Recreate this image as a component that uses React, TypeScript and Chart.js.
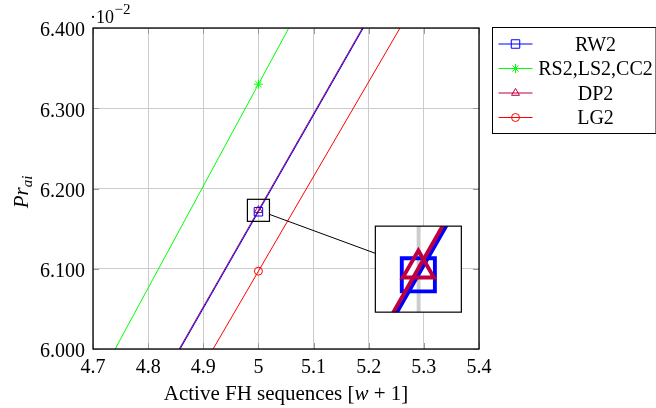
import React, { useEffect, useRef } from 'react';
import { Chart, registerables } from 'chart.js';

Chart.register(...registerables);

// ---- data (y values in units of 10^-2) ----
const xValues = [4, 5, 6];
const rw2 = [4.967, 6.171, 7.375];
const rs2 = [5.06, 6.33, 7.6];
const dp2 = [4.969, 6.173, 7.377];
const lg2 = [4.917, 6.097, 7.277];
const seriesNames = ['RW2', 'RS2,LS2,CC2', 'DP2', 'LG2'];
const seriesColors = ['#0000ff', '#00ff00', '#bf0040', '#ff0000'];
const seriesMarkers = ['rect', 'star', 'triangle', 'circle'];
const xTicks = [4.7, 4.8, 4.9, 5.0, 5.1, 5.2, 5.3, 5.4];
const xTickLabels = ['4.7', '4.8', '4.9', '5', '5.1', '5.2', '5.3', '5.4'];
const yTicks = [6.0, 6.1, 6.2, 6.3, 6.4];
const yTickLabels = ['6.000', '6.100', '6.200', '6.300', '6.400'];

// spy (zoom) settings, in data coordinates
const spyOn = { x: 5.0, y: 6.1728 };
const spyAt = { x: 5.29, y: 6.0995 };
const spySize = 86;
const spyMag = 3.9;

const FONT = '"Liberation Serif", "Times New Roman", serif';
const markerRadius: Record<string, number> = { rect: 6, star: 4.5, triangle: 4.6, circle: 4 };

function drawMarker(ctx: CanvasRenderingContext2D, style: string, x: number, y: number, color: string) {
  const r = markerRadius[style];
  ctx.save();
  ctx.strokeStyle = color;
  ctx.lineWidth = 1;
  ctx.beginPath();
  if (style === 'rect') {
    const s = r * Math.SQRT1_2;
    ctx.rect(x - s, y - s, 2 * s, 2 * s);
  } else if (style === 'circle') {
    ctx.arc(x, y, r, 0, Math.PI * 2);
  } else if (style === 'triangle') {
    for (let k = 0; k < 3; k++) {
      const a = (k * 2 * Math.PI) / 3;
      const px = x + Math.sin(a) * r;
      const py = y - Math.cos(a) * r;
      if (k === 0) ctx.moveTo(px, py);
      else ctx.lineTo(px, py);
    }
    ctx.closePath();
  } else {
    for (let k = 0; k < 4; k++) {
      const a = (k * Math.PI) / 4;
      ctx.moveTo(x - Math.cos(a) * r, y - Math.sin(a) * r);
      ctx.lineTo(x + Math.cos(a) * r, y + Math.sin(a) * r);
    }
  }
  ctx.stroke();
  ctx.restore();
}

const decorPlugin = {
  id: 'decor',
  afterDatasetsDraw(chart: any) {
    const ctx: CanvasRenderingContext2D = chart.ctx;
    const a = chart.chartArea;
    const xs = chart.scales.x;
    const ys = chart.scales.y;

    // tick marks (inside, all four sides)
    ctx.save();
    ctx.strokeStyle = '#9a9a9a';
    ctx.lineWidth = 1;
    const tl = 6;
    xTicks.forEach((v) => {
      const px = Math.round(xs.getPixelForValue(v)) + 0.5;
      ctx.beginPath();
      ctx.moveTo(px, a.bottom); ctx.lineTo(px, a.bottom - tl);
      ctx.moveTo(px, a.top); ctx.lineTo(px, a.top + tl);
      ctx.stroke();
    });
    yTicks.forEach((v) => {
      const py = Math.round(ys.getPixelForValue(v)) + 0.5;
      ctx.beginPath();
      ctx.moveTo(a.left, py); ctx.lineTo(a.left + tl, py);
      ctx.moveTo(a.right, py); ctx.lineTo(a.right - tl, py);
      ctx.stroke();
    });
    ctx.restore();

    // frame
    ctx.save();
    ctx.strokeStyle = '#000';
    ctx.lineWidth = 1.3;
    ctx.strokeRect(a.left, a.top, a.right - a.left, a.bottom - a.top);
    ctx.restore();

    // spy
    const scx = xs.getPixelForValue(spyOn.x);
    const scy = ys.getPixelForValue(spyOn.y);
    const dcx = xs.getPixelForValue(spyAt.x);
    const dcy = ys.getPixelForValue(spyAt.y);
    const big = spySize / 2;
    const small = spySize / spyMag / 2;

    ctx.save();
    ctx.beginPath();
    ctx.rect(dcx - big, dcy - big, 2 * big, 2 * big);
    ctx.fillStyle = '#fff';
    ctx.fill();
    ctx.clip();
    ctx.translate(dcx, dcy);
    ctx.scale(spyMag, spyMag);
    ctx.translate(-scx, -scy);
    ctx.strokeStyle = '#cccccc';
    ctx.lineWidth = 1;
    xTicks.forEach((v) => {
      const px = Math.round(xs.getPixelForValue(v)) + 0.5;
      ctx.beginPath(); ctx.moveTo(px, a.top); ctx.lineTo(px, a.bottom); ctx.stroke();
    });
    yTicks.forEach((v) => {
      const py = Math.round(ys.getPixelForValue(v)) + 0.5;
      ctx.beginPath(); ctx.moveTo(a.left, py); ctx.lineTo(a.right, py); ctx.stroke();
    });
    for (let i = 0; i < chart.data.datasets.length; i++) {
      chart.getDatasetMeta(i).controller.draw();
    }
    ctx.restore();

    ctx.save();
    ctx.strokeStyle = '#000';
    ctx.lineWidth = 1.2;
    ctx.strokeRect(scx - small, scy - small, 2 * small, 2 * small);
    ctx.strokeRect(dcx - big, dcy - big, 2 * big, 2 * big);
    // connector between the two boxes along centre line
    const dx = dcx - scx;
    const dy = dcy - scy;
    const t0 = Math.min(small / Math.abs(dx), small / Math.abs(dy));
    const t1 = 1 - Math.min(big / Math.abs(dx), big / Math.abs(dy));
    ctx.lineWidth = 1;
    ctx.beginPath();
    ctx.moveTo(scx + dx * t0, scy + dy * t0);
    ctx.lineTo(scx + dx * t1, scy + dy * t1);
    ctx.stroke();
    ctx.restore();
  },
  afterDraw(chart: any) {
    const ctx: CanvasRenderingContext2D = chart.ctx;
    const a = chart.chartArea;

    // legend
    ctx.save();
    const lx = a.right + 13.5;
    const ly = a.top - 0.5;
    const lw = 163.5;
    const lh = 106;
    ctx.strokeStyle = '#000';
    ctx.lineWidth = 1;
    ctx.strokeRect(lx, ly, lw, lh);
    ctx.font = `20px ${FONT}`;
    ctx.fillStyle = '#000';
    ctx.textAlign = 'center';
    ctx.textBaseline = 'middle';
    seriesNames.forEach((name, i) => {
      const y = ly + 16.5 + i * 24.5;
      const c = seriesColors[i];
      ctx.strokeStyle = c;
      ctx.lineWidth = 1;
      ctx.beginPath();
      ctx.moveTo(lx + 6, y);
      ctx.lineTo(lx + 40, y);
      ctx.stroke();
      drawMarker(ctx, seriesMarkers[i], lx + 23, y, c);
      ctx.fillText(name, lx + 103, y + 1.5);
    });
    ctx.restore();

    // x title
    ctx.save();
    ctx.fillStyle = '#000';
    ctx.textBaseline = 'alphabetic';
    const parts: [string, string][] = [
      ['Active FH sequences [', `21px ${FONT}`],
      ['w', `italic 21px ${FONT}`],
      [' + 1]', `21px ${FONT}`],
    ];
    let total = 0;
    parts.forEach(([t, f]) => { ctx.font = f; total += ctx.measureText(t).width; });
    let cx = (a.left + a.right) / 2 - total / 2;
    parts.forEach(([t, f]) => {
      ctx.font = f;
      ctx.fillText(t, cx, 400);
      cx += ctx.measureText(t).width;
    });
    ctx.restore();

    // y title: Pr_ai
    ctx.save();
    ctx.fillStyle = '#000';
    ctx.translate(28, 192);
    ctx.rotate(-Math.PI / 2);
    ctx.textBaseline = 'alphabetic';
    ctx.font = `italic 21px ${FONT}`;
    const wMain = ctx.measureText('Pr').width;
    ctx.font = `italic 15px ${FONT}`;
    const wSub = ctx.measureText('ai').width;
    const start = -(wMain + wSub) / 2;
    ctx.font = `italic 21px ${FONT}`;
    ctx.fillText('Pr', start, 0);
    ctx.font = `italic 15px ${FONT}`;
    ctx.fillText('ai', start + wMain, 4);
    ctx.restore();

    // scale exponent: ·10^-2
    ctx.save();
    ctx.fillStyle = '#000';
    ctx.textBaseline = 'alphabetic';
    ctx.font = `18px ${FONT}`;
    const base = '\u00b710';
    ctx.fillText(base, a.left - 3, 22.5);
    const bw = ctx.measureText(base).width;
    ctx.font = `15px ${FONT}`;
    ctx.fillText('\u22122', a.left - 3 + bw + 0.5, 14);
    ctx.restore();
  },
};

export default function App() {
  const ref = useRef<HTMLCanvasElement>(null);
  useEffect(() => {
    if (!ref.current) return;
    const all = [rw2, rs2, dp2, lg2];
    const chart = new Chart(ref.current, {
      type: 'line',
      data: {
        datasets: all.map((vals, i) => ({
          label: seriesNames[i],
          data: xValues.map((x, j) => ({ x, y: vals[j] })),
          borderColor: seriesColors[i],
          backgroundColor: 'rgba(0,0,0,0)',
          borderWidth: 1,
          tension: 0,
          pointStyle: seriesMarkers[i] as any,
          pointRadius: xValues.map((x) => (x === 5 ? markerRadius[seriesMarkers[i]] : 0)),
          pointBorderWidth: 1,
          pointBorderColor: seriesColors[i],
          pointBackgroundColor: 'rgba(0,0,0,0)',
        })),
      },
      options: {
        responsive: false,
        animation: false,
        devicePixelRatio: 1,
        layout: { padding: { left: 0, top: 28, right: 177, bottom: 0 } },
        plugins: { legend: { display: false }, tooltip: { enabled: false } },
        events: [],
        scales: {
          x: {
            type: 'linear',
            min: 4.7,
            max: 5.4,
            afterBuildTicks: (s: any) => { s.ticks = xTicks.map((v) => ({ value: v })); },
            afterFit: (s: any) => { s.height = 59; },
            grid: { color: '#cccccc', lineWidth: 1, drawTicks: false },
            border: { display: false },
            ticks: {
              padding: 7,
              color: '#000',
              font: { family: FONT, size: 20 },
              maxRotation: 0,
              autoSkip: false,
              callback: (_v: any, i: number) => xTickLabels[i],
            },
          },
          y: {
            type: 'linear',
            min: 6.0,
            max: 6.4,
            afterBuildTicks: (s: any) => { s.ticks = yTicks.map((v) => ({ value: v })); },
            afterFit: (s: any) => { s.width = 93; },
            grid: { color: '#cccccc', lineWidth: 1, drawTicks: false },
            border: { display: false },
            ticks: {
              padding: 8,
              labelOffset: 3,
              color: '#000',
              font: { family: FONT, size: 20 },
              autoSkip: false,
              callback: (_v: any, i: number) => yTickLabels[i],
            },
          },
        },
      },
      plugins: [decorPlugin],
    });
    return () => chart.destroy();
  }, []);
  return (
    <div style={{ position: 'absolute', left: 0, top: 0, width: 656, height: 408, background: '#fff' }}>
      <canvas ref={ref} width={656} height={408} style={{ display: 'block' }} />
    </div>
  );
}
